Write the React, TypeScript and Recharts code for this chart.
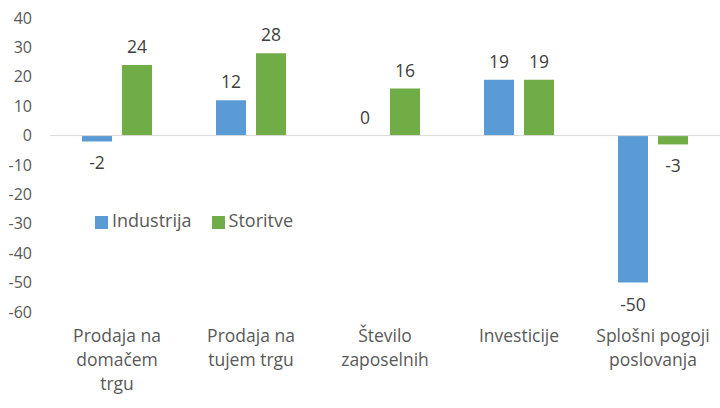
import { BarChart, Bar, XAxis, YAxis, Legend, ReferenceLine, LabelList } from "recharts";

const categories = [
  "Prodaja na\ndomačem\ntrgu",
  "Prodaja na\ntujem trgu",
  "Število\nzaposelnih",
  "Investicije",
  "Splošni pogoji\nposlovanja",
];
const industrija = [-2, 12, 0, 19, -50];
const storitve = [24, 28, 16, 19, -3];
const yTicks = [40, 30, 20, 10, 0, -10, -20, -30, -40, -50, -60];

const data = categories.map((name, i) => ({
  name,
  industrija: industrija[i],
  storitve: storitve[i],
}));

const FONT = "'Open Sans', sans-serif";

const CategoryTick = (props: any) => {
  const { x, y, payload } = props;
  const lines = String(payload.value).split("\n");
  return (
    <g transform={`translate(${x},${y})`}>
      {lines.map((line, i) => (
        <text
          key={i}
          x={0}
          y={i * 24}
          dy={22}
          textAnchor="middle"
          fill="#595959"
          fontSize={17.5}
          fontFamily={FONT}
        >
          {line}
        </text>
      ))}
    </g>
  );
};

const ValueLabel = (props: any) => {
  const { x, y, width, height, value } = props;
  const top = Math.min(y, y + height);
  const bottom = Math.max(y, y + height);
  const cx = x + width / 2;
  const ty = value < 0 ? bottom + 28 : top - 12;
  return (
    <text x={cx} y={ty} textAnchor="middle" fill="#404040" fontSize={17.5} fontFamily={FONT}>
      {value}
    </text>
  );
};

// tiny size so a zero-value bar still gets its "0" label
const zeroSize = (v: any) => (v === 0 ? 0.01 : 0);

const App = () => {
  return (
    <div style={{ position: "absolute", left: 0, top: 0, width: 720, height: 408, background: "#fff" }}>
      <BarChart
        width={720}
        height={408}
        data={data}
        margin={{ top: 18, right: 0, bottom: 6, left: 0 }}
        barSize={30}
        barGap={10}
      >
        <YAxis
          domain={[-60, 40]}
          ticks={yTicks}
          interval={0}
          width={50}
          axisLine={false}
          tickLine={false}
          tickMargin={12}
          tick={{ fill: "#595959", fontSize: 16, fontFamily: FONT }}
        />
        <XAxis
          dataKey="name"
          axisLine={false}
          tickLine={false}
          interval={0}
          height={90}
          tick={<CategoryTick />}
        />
        <ReferenceLine y={0} stroke="#d9d9d9" strokeWidth={1} />
        <Legend
          layout="horizontal"
          verticalAlign="middle"
          align="center"
          iconType="square"
          iconSize={13}
          wrapperStyle={{ left: 74, top: 208, width: 260, fontFamily: FONT, fontSize: 18 }}
          formatter={(value: string) => <span style={{ color: "#595959", marginRight: 10 }}>{value}</span>}
        />
        <Bar dataKey="industrija" name="Industrija" fill="#5B9BD5" minPointSize={zeroSize} isAnimationActive={false}>
          <LabelList dataKey="industrija" content={<ValueLabel />} />
        </Bar>
        <Bar dataKey="storitve" name="Storitve" fill="#70AD47" isAnimationActive={false}>
          <LabelList dataKey="storitve" content={<ValueLabel />} />
        </Bar>
      </BarChart>
    </div>
  );
};

export default App;
